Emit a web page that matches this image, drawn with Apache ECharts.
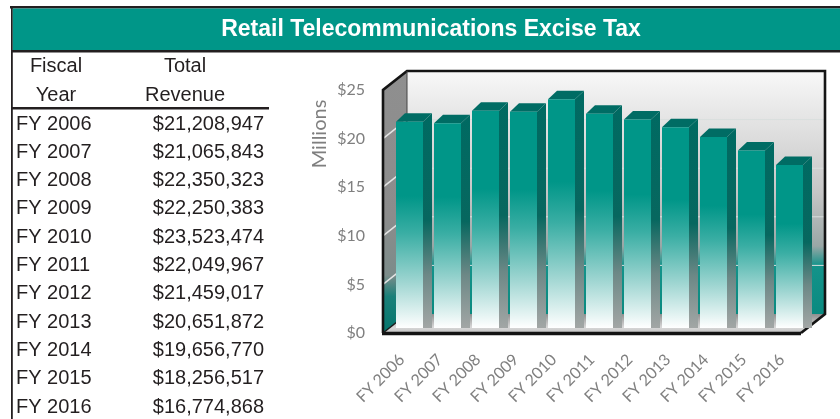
<!DOCTYPE html>
<html>
<head>
<meta charset="utf-8">
<title>Retail Telecommunications Excise Tax</title>
<script src="https://cdn.jsdelivr.net/npm/echarts@6/dist/echarts.min.js"></script>
<style>
html, body { margin: 0; padding: 0; background: #fff; }
#chart { width: 840px; height: 419px; }
</style>
</head>
<body>
<div id="chart"></div>
<script>
var titleText = 'Retail Telecommunications Excise Tax';
var fiscalYears = ['FY 2006', 'FY 2007', 'FY 2008', 'FY 2009', 'FY 2010', 'FY 2011', 'FY 2012', 'FY 2013', 'FY 2014', 'FY 2015', 'FY 2016'];
var revenue = [21208947, 21065843, 22350323, 22250383, 23523474, 22049967, 21459017, 20651872, 19656770, 18256517, 16774868];
var axisTicks = [0, 5000000, 10000000, 15000000, 20000000, 25000000];

var myChart = echarts.init(document.getElementById('chart'), null, { renderer: 'canvas' });

var textColor = '#231f20';
var tableFont = '20px "Liberation Sans", Arial, sans-serif';

function vGrad(stops) {
    return {
        type: 'linear', x: 0, y: 0, x2: 0, y2: 1,
        colorStops: stops.map(function (s) { return { offset: s[0], color: s[1] }; })
    };
}

function money(v) {
    return '$' + v.toLocaleString('en-US');
}

// table and banner
var graphics = [
    { type: 'rect', shape: { x: 10, y: 6, width: 830, height: 2.5 }, style: { fill: textColor } },
    { type: 'rect', shape: { x: 11, y: 6, width: 1.8, height: 413 }, style: { fill: textColor } },
    { type: 'rect', shape: { x: 12.8, y: 8.5, width: 828, height: 41.5 }, style: { fill: '#009688' } },
    { type: 'rect', shape: { x: 11, y: 50, width: 829, height: 2.6 }, style: { fill: textColor } },
    { type: 'rect', shape: { x: 12, y: 107, width: 257, height: 2.6 }, style: { fill: textColor } },
    {
        type: 'text', x: 431, y: 30,
        style: { text: titleText, fill: '#fff', font: 'bold 23px "Liberation Sans", Arial, sans-serif', align: 'center', verticalAlign: 'middle' }
    },
    {
        type: 'text', x: 320, y: 134, rotation: Math.PI / 2,
        style: { text: 'Millions', fill: '#7f7f7f', font: '20px Lato, sans-serif', align: 'center', verticalAlign: 'middle' }
    }
];

[['Fiscal', 56, 66], ['Total', 185, 66], ['Year', 56, 95], ['Revenue', 185, 95]].forEach(function (h) {
    graphics.push({
        type: 'text', x: h[1], y: h[2],
        style: { text: h[0], fill: textColor, font: tableFont, align: 'center', verticalAlign: 'middle' }
    });
});

fiscalYears.forEach(function (name, i) {
    var y = 124 + i * 28.3;
    graphics.push({
        type: 'text', x: 16, y: y,
        style: { text: name, fill: textColor, font: tableFont, align: 'left', verticalAlign: 'middle' }
    });
    graphics.push({
        type: 'text', x: 264, y: y,
        style: { text: money(revenue[i]), fill: textColor, font: tableFont, align: 'right', verticalAlign: 'middle' }
    });
});

// 3d box behind the bars
function renderBox(params, api) {
    var band = api.size([1, 0])[0];
    var first = api.coord([0, 0]);
    var last = api.coord([fiscalYears.length - 1, 0]);
    var top = api.coord([0, 25000000])[1];
    var xl = first[0] - band / 2, xr = last[0] + band / 2, yb = first[1];
    var dx = 24, dy = 19;
    var kids = [];

    kids.push({ type: 'rect', shape: { x: xl + dx, y: top - dy, width: xr - xl, height: yb - top },
        style: { fill: vGrad([[0, '#f8f8f8'], [0.5, '#c6c6c6'], [0.72, '#9aa7a6'], [0.8, '#14938a'], [1, '#0a8a80']]) } });
    kids.push({ type: 'polygon', shape: { points: [[xl, top], [xl + dx, top - dy], [xl + dx, yb - dy], [xl, yb]] },
        style: { fill: vGrad([[0, '#8f8f8f'], [0.55, '#8c8c8c'], [0.78, '#7c8c8a'], [0.86, '#1a8079'], [1, '#04756d']]) } });
    kids.push({ type: 'polygon', shape: { points: [[xl, yb], [xl + dx, yb - dy], [xr + dx, yb - dy], [xr, yb]] },
        style: { fill: vGrad([[0, '#8e8e8e'], [0.7, '#d8d8d8'], [1, '#c4c4c4']]) } });

    // grid lines on the walls
    axisTicks.slice(1, -1).forEach(function (t) {
        var y = api.coord([0, t])[1];
        kids.push({ type: 'line', shape: { x1: xl, y1: y, x2: xl + dx, y2: y - dy },
            style: { stroke: '#e4e4e4', lineWidth: 1.5 } });
        kids.push({ type: 'line', shape: { x1: xl + dx, y1: y - dy, x2: xr + dx, y2: y - dy },
            style: { stroke: '#d9dedd', lineWidth: 1 } });
    });

    var frame = { stroke: '#141414', lineWidth: 2.6, fill: 'none' };
    kids.push({ type: 'polyline', shape: { points: [[xl, yb], [xl, top], [xl + dx, top - dy], [xr + dx, top - dy], [xr + dx, yb - dy], [xr, yb]] }, style: frame });
    kids.push({ type: 'line', shape: { x1: xl - 1, y1: yb + 0.5, x2: xr, y2: yb + 0.5 }, style: { stroke: '#141414', lineWidth: 3.4 } });
    kids.push({ type: 'line', shape: { x1: xl, y1: yb, x2: xl + dx, y2: yb - dy }, style: { stroke: '#1a1a1a', lineWidth: 1.5 } });
    kids.push({ type: 'line', shape: { x1: xl + dx, y1: top - dy, x2: xl + dx, y2: yb - dy }, style: { stroke: '#444', lineWidth: 1 } });
    return { type: 'group', children: kids };
}

function renderBar(params, api) {
    var c = api.value(0);
    var base = api.coord([c, 0]);
    var head = api.coord([c, api.value(1)]);
    var w = 27, dx = 9, dy = 8.5;
    var x = base[0] - 6, yb = base[1] - 5, y = head[1] - 5;
    return {
        type: 'group',
        children: [
            { type: 'polygon', shape: { points: [[x + w, y], [x + w + dx, y - dy], [x + w + dx, yb], [x + w, yb]] },
                style: { fill: vGrad([[0, '#006a62'], [0.5, '#07675f'], [0.75, '#6c8886'], [1, '#a2a6a5']]) } },
            { type: 'polygon', shape: { points: [[x, y], [x + w, y], [x + w + dx, y - dy], [x + dx, y - dy]] },
                style: { fill: '#006c64' } },
            { type: 'rect', shape: { x: x, y: y, width: w, height: yb - y },
                style: { fill: vGrad([[0, '#009688'], [0.36, '#009688'], [0.54, '#3aaea4'], [0.78, '#a0d6d2'], [1, '#ffffff']]) } }
        ]
    };
}

var option = {
    animation: false,
    graphic: graphics,
    grid: { left: 383, right: 39, top: 90, bottom: 86 },
    xAxis: {
        type: 'category',
        data: fiscalYears,
        axisLine: { show: false },
        axisTick: { show: false },
        axisLabel: { interval: 0, rotate: 45, margin: 24, color: '#7f7f7f', fontFamily: 'Lato', fontSize: 16 }
    },
    yAxis: {
        type: 'value',
        min: 0,
        max: 25000000,
        interval: 5000000,
        splitLine: { show: false },
        axisLine: { show: false },
        axisTick: { show: false },
        axisLabel: {
            margin: 18,
            color: '#7f7f7f',
            fontFamily: 'Lato',
            fontSize: 16,
            formatter: function (v) { return '$' + v / 1000000; }
        }
    },
    series: [
        { type: 'custom', name: 'box', clip: false, silent: true, z: 1, renderItem: renderBox, data: [[0, 0]] },
        {
            type: 'custom', name: 'Total Revenue', clip: false, z: 2, renderItem: renderBar,
            encode: { x: 0, y: 1 },
            data: revenue.map(function (v, i) { return [i, v]; })
        }
    ]
};

myChart.setOption(option);
window.addEventListener('resize', function () {
    myChart.resize();
});
</script>
</body>
</html>
